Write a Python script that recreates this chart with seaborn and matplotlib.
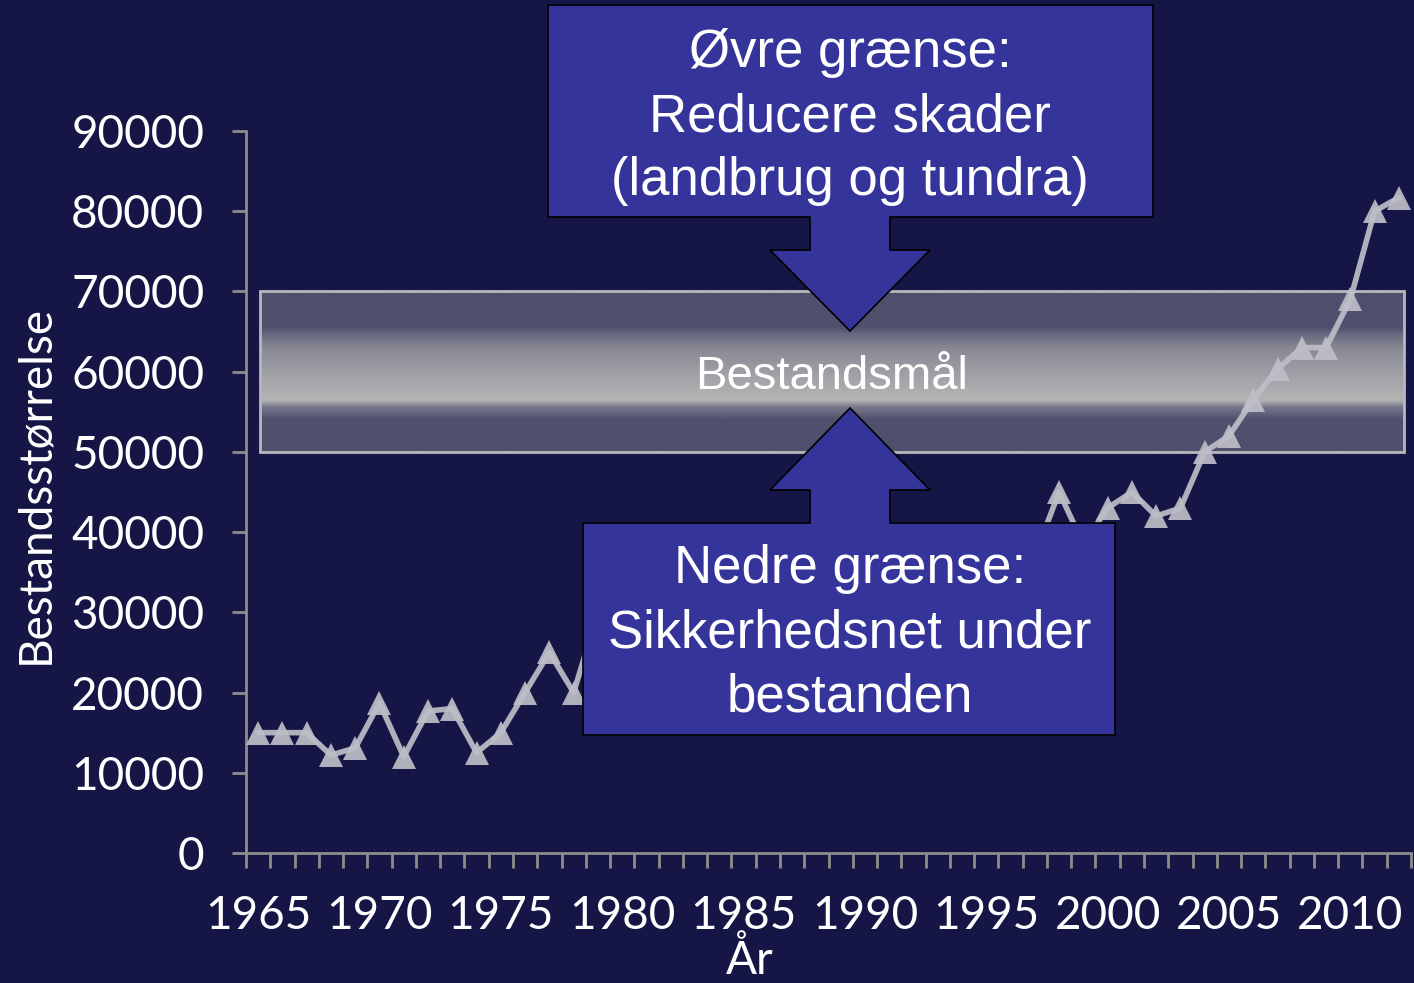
import numpy as np
import pandas as pd
import matplotlib
matplotlib.use("Agg")
import matplotlib.pyplot as plt
from matplotlib.patches import Polygon, Rectangle
import seaborn as sns

# population counts per year (1979-1997 sit behind the lower box)
years = list(range(1965, 2013))
counts = [15000, 15000, 15000, 12200, 13100, 18700, 12000, 17700, 18000, 12500,
          15000, 20000, 25000, 20000, 30000, 27000, 24000, 26000, 28000, 27000,
          30000, 32000, 30000, 33000, 34000, 31000, 36000, 34000, 35000, 37000,
          34000, 33000, 37000, 45000, 38500, 43000, 45000, 42000, 43000, 50000,
          52000, 56500, 60300, 63000, 63000, 69000, 80000, 81700]
target_low, target_high = 50000, 70000
major_years = list(range(1965, 2011, 5))
y_ticks = list(range(0, 90001, 10000))

upper_text = ["Øvre grænse:", "Reducere skader", "(landbrug og tundra)"]
lower_text = ["Nedre grænse:", "Sikkerhedsnet under", "bestanden"]
band_text = "Bestandsmål"

BG = "#161646"
BOX = "#35349a"
LINE = "#bebec8"
AXIS = "#8c8c8c"
W, H = 1414, 983

sns.set_style("dark")
plt.rcParams["font.family"] = ["Lato", "DejaVu Sans"]

df = pd.DataFrame({"year": years, "count": counts})

fig = plt.figure(figsize=(W / 100, H / 100), dpi=100, facecolor=BG)
ax = fig.add_axes([246 / W, 1 - 853 / H, (1411 - 246) / W, (853 - 131) / H])
ax.set_facecolor(BG)


def px(x, y):
    return (x / W, 1 - y / H)


# target band with gradient
stops = np.array([0, 0.22, 0.28, 0.36, 0.52, 0.64, 0.68, 0.72, 0.80, 1.0])
cols = np.array([[79, 79, 110], [79, 79, 110], [110, 110, 132], [138, 138, 150],
                 [160, 160, 166], [176, 176, 178], [180, 180, 180], [120, 120, 140],
                 [79, 79, 110], [79, 79, 110]]) / 255
t = np.linspace(0, 1, 200)
grad = np.stack([np.interp(t, stops, cols[:, i]) for i in range(3)], axis=1)[:, None, :]
bx0, bx1 = 1965.08, 2012.2
ax.imshow(grad, extent=[bx0, bx1, target_low, target_high], aspect="auto",
          zorder=1, interpolation="bilinear")
ax.add_patch(Rectangle((bx0, target_low), bx1 - bx0, target_high - target_low,
                       fill=False, edgecolor="#b8b8bc", lw=2, zorder=2))

sns.lineplot(data=df, x="year", y="count", ax=ax, color=LINE, lw=4,
             marker="^", markersize=17, markeredgewidth=0, alpha=0.92, zorder=3)

ax.set_xlim(1964.5, 2012.5)
ax.set_ylim(0, 90000)
ax.set_xticks(major_years)
ax.set_xticklabels([str(y) for y in major_years])
ax.set_xticks(np.arange(1964.5, 2012.6, 1), minor=True)
ax.set_yticks(y_ticks)
ax.set_yticklabels([str(v) for v in y_ticks])
ax.tick_params(axis="x", which="major", bottom=True, length=0, pad=30, labelsize=33,
               colors="white")
ax.tick_params(axis="x", which="minor", bottom=True, length=11, width=2, color=AXIS,
               direction="out")
ax.tick_params(axis="y", left=True, length=10, width=2, color=AXIS, direction="out",
               pad=20, labelsize=33, labelcolor="white")
for s in ["top", "right"]:
    ax.spines[s].set_visible(False)
for s in ["left", "bottom"]:
    ax.spines[s].set_color(AXIS)
    ax.spines[s].set_linewidth(2)
ax.grid(False)

ax.set_xlabel("År", fontsize=33, color="white")
ax.xaxis.set_label_coords((750 - 246) / 1165, -(960 - 853) / 722)
ax.xaxis.label.set_va("center")
ax.set_ylabel("Bestandsstørrelse", fontsize=33, color="white")
ax.yaxis.set_label_coords((35 - 246) / 1165, (853 - 485) / 722)
ax.yaxis.label.set_va("center")

# annotation boxes with arrows
top_shape = [(548, 5), (1153, 5), (1153, 217), (890, 217), (890, 250), (930, 250),
             (850, 331), (770, 250), (810, 250), (810, 217), (548, 217)]
low_shape = [(583, 735), (1115, 735), (1115, 523), (890, 523), (890, 490), (930, 490),
             (850, 408), (770, 490), (810, 490), (810, 523), (583, 523)]
for shape in [top_shape, low_shape]:
    ax.add_patch(Polygon([px(*p) for p in shape], closed=True, facecolor=BOX,
                         edgecolor="black", lw=1.2, transform=fig.transFigure,
                         clip_on=False, zorder=10))

box_font = ["Liberation Sans", "DejaVu Sans"]
for line, base in zip(upper_text, [67, 131, 195]):
    ax.text(*px(850, base), line, transform=fig.transFigure, ha="center", va="baseline",
            fontsize=38, color="white", family=box_font, zorder=11)
for line, base in zip(lower_text, [583, 647, 712]):
    ax.text(*px(850, base), line, transform=fig.transFigure, ha="center", va="baseline",
            fontsize=38, color="white", family=box_font, zorder=11)
ax.text(*px(832, 389), band_text, transform=fig.transFigure, ha="center", va="baseline",
        fontsize=34, color="white", family=box_font, zorder=11)

fig.savefig("out.png", dpi=100, facecolor=BG)
